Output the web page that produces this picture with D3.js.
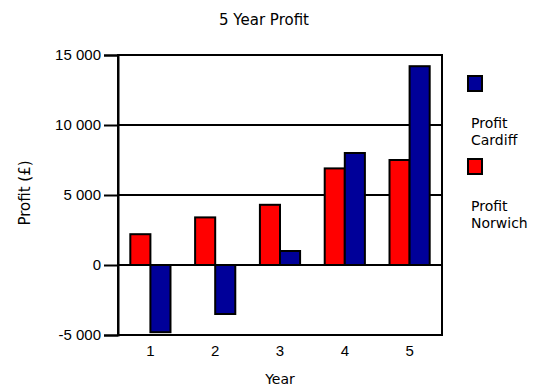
<!DOCTYPE html>
<html>
<head>
<meta charset="utf-8">
<script src="https://cdn.jsdelivr.net/npm/d3@7"></script>
<style>
  html, body { margin: 0; padding: 0; background: #fff; }
  svg { display: block; }
</style>
</head>
<body>
<div id="chart"></div>
<script>
// Yearly profit for the two branches
const years = ["1", "2", "3", "4", "5"];
const profitNorwich = [2200, 3400, 4300, 6900, 7500];
const profitCardiff = [-4800, -3500, 1000, 8000, 14200];
const yTicks = [-5000, 0, 5000, 10000, 15000];
const seriesNames = ["Profit Norwich", "Profit Cardiff"];
const seriesColors = ["#ff0000", "#000099"];

const W = 541, H = 389;
const margin = { left: 118, right: 99, top: 55, bottom: 54 };
const handFont = "'DejaVu Sans', sans-serif";
const tickFont = "'Liberation Sans', Arial, sans-serif";

const svg = d3.select("#chart").append("svg")
  .attr("width", W).attr("height", H);

const x0 = d3.scaleBand()
  .domain(years)
  .range([margin.left, W - margin.right])
  .paddingInner(0.38)
  .paddingOuter(0.19);

const x1 = d3.scaleBand()
  .domain(seriesNames)
  .range([0, x0.bandwidth()]);

const y = d3.scaleLinear()
  .domain([-5000, 15000])
  .range([H - margin.bottom, margin.top]);

// Thousands separated by a space, plain hyphen for negatives
const fmt = v => d3.format(",")(v).replace(/,/g, " ").replace("\u2212", "-");

// Horizontal gridlines
svg.append("g")
  .selectAll("line")
  .data(yTicks)
  .join("line")
  .attr("x1", margin.left)
  .attr("x2", W - margin.right)
  .attr("y1", d => y(d))
  .attr("y2", d => y(d))
  .attr("stroke", "#000")
  .attr("stroke-width", 2);

// Bars
const rows = years.map((yr, i) => ({
  year: yr,
  values: [
    { name: seriesNames[0], value: profitNorwich[i], color: seriesColors[0] },
    { name: seriesNames[1], value: profitCardiff[i], color: seriesColors[1] }
  ]
}));

svg.append("g")
  .selectAll("g")
  .data(rows)
  .join("g")
  .attr("transform", d => `translate(${x0(d.year)},0)`)
  .selectAll("rect")
  .data(d => d.values)
  .join("rect")
  .attr("x", d => x1(d.name))
  .attr("width", x1.bandwidth())
  .attr("y", d => y(Math.max(0, d.value)))
  .attr("height", d => Math.abs(y(d.value) - y(0)))
  .attr("fill", d => d.color)
  .attr("stroke", "#000")
  .attr("stroke-width", 2);

// Plot frame
svg.append("rect")
  .attr("x", margin.left)
  .attr("y", margin.top)
  .attr("width", W - margin.right - margin.left)
  .attr("height", H - margin.bottom - margin.top)
  .attr("fill", "none")
  .attr("stroke", "#000")
  .attr("stroke-width", 2);

// Y axis
const yAxis = svg.append("g")
  .attr("transform", `translate(${margin.left},0)`)
  .call(d3.axisLeft(y).tickValues(yTicks).tickSize(14).tickPadding(3).tickFormat(fmt));
yAxis.select(".domain").attr("stroke-width", 2);
yAxis.selectAll(".tick line").attr("stroke-width", 2);
yAxis.selectAll(".tick text")
  .attr("font-family", tickFont)
  .attr("font-size", 15)
  .attr("fill", "#000");

// X axis
const xAxis = svg.append("g")
  .attr("transform", `translate(0,${H - margin.bottom})`)
  .call(d3.axisBottom(x0).tickSize(0).tickPadding(10));
xAxis.select(".domain").remove();
xAxis.selectAll(".tick text")
  .attr("font-family", tickFont)
  .attr("font-size", 15)
  .attr("fill", "#000");

// Titles
svg.append("text")
  .attr("x", 264).attr("y", 25)
  .attr("text-anchor", "middle")
  .attr("font-family", handFont)
  .attr("font-size", 15)
  .text("5 Year Profit");

svg.append("text")
  .attr("x", 280).attr("y", 384)
  .attr("text-anchor", "middle")
  .attr("font-family", handFont)
  .attr("font-size", 14)
  .text("Year");

svg.append("text")
  .attr("transform", "translate(30,193) rotate(-90)")
  .attr("text-anchor", "middle")
  .attr("font-family", handFont)
  .attr("font-size", 15)
  .text("Profit (£)");

// Legend
const legendItems = [
  { lines: ["Profit", "Cardiff"], color: seriesColors[1] },
  { lines: ["Profit", "Norwich"], color: seriesColors[0] }
];
const legend = svg.append("g");
legendItems.forEach((item, i) => {
  const g = legend.append("g").attr("transform", `translate(468,${76 + i * 83})`);
  g.append("rect")
    .attr("width", 14).attr("height", 15)
    .attr("fill", item.color)
    .attr("stroke", "#000").attr("stroke-width", 2);
  item.lines.forEach((ln, j) => {
    g.append("text")
      .attr("x", 3).attr("y", 52 + j * 17)
      .attr("font-family", handFont)
      .attr("font-size", 14)
      .text(ln);
  });
});
</script>
</body>
</html>
